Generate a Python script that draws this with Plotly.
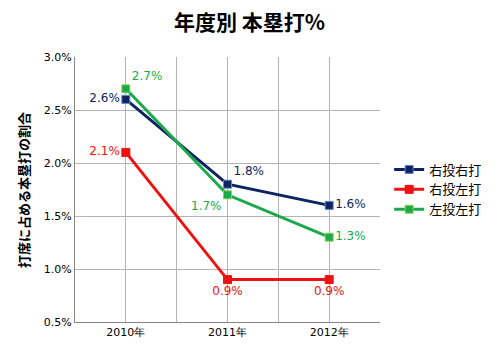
import plotly.graph_objects as go

categories = ["2010年", "2011年", "2012年"]
series_names = ["右投右打", "右投左打", "左投左打"]
rr_values = [2.6, 1.8, 1.6]
rl_values = [2.1, 0.9, 0.9]
ll_values = [2.7, 1.7, 1.3]

colors = ["#0D2460", "#EE1111", "#1BA94C"]
border_colors = ["#5B8AC9", "#EE1111", "#92D050"]
positions = [
    ["middle left", "top right", "middle right"],
    ["middle left", "bottom center", "bottom center"],
    ["top right", "bottom left", "middle right"],
]

FONT = "Noto Sans CJK JP"
x_idx = list(range(len(categories)))

fig = go.Figure()
for name, vals, c, bc, pos in zip(series_names, [rr_values, rl_values, ll_values],
                                  colors, border_colors, positions):
    fig.add_trace(go.Scatter(
        x=x_idx, y=vals, name=name, mode="lines+markers+text",
        line=dict(color=c, width=3),
        marker=dict(symbol="square", size=8, color=c, line=dict(color=bc, width=1)),
        text=[f"{v:.1f}%" for v in vals], textposition=pos,
        textfont=dict(color=c, size=12, family="DejaVu Sans"),
        cliponaxis=False,
    ))

fig.update_layout(
    width=499, height=355,
    margin=dict(l=75, r=116, t=57, b=33),
    paper_bgcolor="white", plot_bgcolor="white",
    title=dict(text="<b>年度別 本塁打%</b>", x=0.5, xanchor="center", y=0.935,
               yanchor="middle", font=dict(family=FONT, size=21, color="black")),
    legend=dict(x=1.03, y=0.5, yanchor="middle", xanchor="left",
                font=dict(family=FONT, size=13, color="black"),
                itemwidth=30, tracegroupgap=6),
    xaxis=dict(range=[-0.5, 2.5], tickvals=x_idx, ticktext=categories,
               showgrid=True, gridcolor="#B4B4B4", gridwidth=1,
               minor=dict(dtick=0.5, tick0=-0.5, showgrid=True, gridcolor="#B4B4B4"),
               showline=True, linecolor="#868686", linewidth=1,
               ticks="", zeroline=False, automargin=False,
               tickfont=dict(family="DejaVu Sans", size=11, color="black")),
    yaxis=dict(range=[0.5, 3.0], dtick=0.5, tickformat=".1f", ticksuffix="%",
               showgrid=True, gridcolor="#B4B4B4", gridwidth=1,
               showline=True, linecolor="#868686", linewidth=1,
               ticks="", zeroline=False, automargin=False,
               tickfont=dict(family="DejaVu Sans", size=11, color="black")),
    annotations=[dict(text="<b>打席に占める本塁打の割合</b>", xref="paper", yref="paper",
                      x=-0.169, y=0.5, xanchor="center", yanchor="middle",
                      textangle=-90, showarrow=False,
                      font=dict(family=FONT, size=13, color="black"))],
)

fig.write_html("out.html", config={"displayModeBar": False},
               post_script="document.body.style.margin='0';")
